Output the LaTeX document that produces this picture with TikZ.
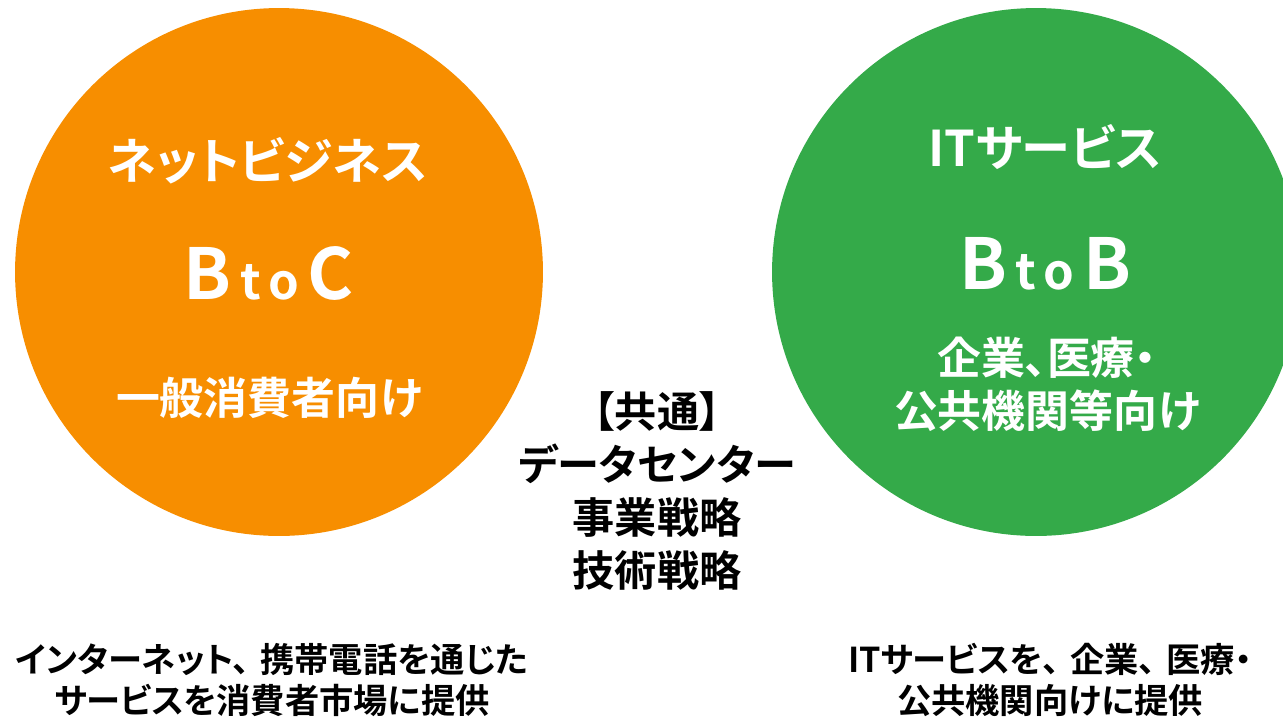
\documentclass[tikz,border=0pt]{standalone}
\usepackage{fontspec}
\setmainfont{Noto Sans CJK JP}[BoldFont={* Bold}]
\newfontfamily\jpbold{Noto Sans CJK JP Bold}[RawFeature=+palt]
\newfontfamily\latinfont{Noto Sans CJK JP Bold}

\definecolor{netorange}{RGB}{247,142,0}
\definecolor{itgreen}{RGB}{52,170,73}

\begin{document}
\begin{tikzpicture}
  [x=0.02cm,y=-0.02cm,every node/.style={inner sep=0pt},
   bubble/.style={circle,minimum size=10.56cm},
   headtext/.style={text=white,font=\jpbold\fontsize{28}{34}\selectfont},
   modeltext/.style={text=white,font=\latinfont\fontsize{40}{44}\selectfont},
   targettext/.style={text=white,align=center,font=\jpbold\fontsize{25}{30}\selectfont},
   commontext/.style={text=black,align=center,font=\jpbold\fontsize{24}{30.2}\selectfont},
   notetext/.style={text=black,align=center,font=\jpbold\fontsize{19.5}{23}\selectfont}]
  \useasboundingbox (0,0) rectangle (1283,721);
  \clip (0,0) rectangle (1283,721);
  \newcommand{\smallto}{\hspace{5pt}{\fontsize{28}{30}\selectfont t\hspace{4pt}o}\hspace{5pt}}
  % circles
  \node[bubble,fill=netorange] (btoc) at (279,272) {};
  \node[bubble,fill=itgreen] (btob) at (1036,272) {};
  % left circle
  \node[headtext] (net) at (268,161) {ネットビジネス};
  \node[modeltext] (btocname) at (269,273) {B\smallto C};
  \node[targettext] (consumer) at (269,398) {一般消費者向け};
  % right circle
  \node[headtext] (its) at (1045,147) {ITサービス};
  \node[modeltext] (btobname) at (1045,264) {B\smallto B};
  \node[targettext] (corp) at (1047,384) {企業、医療・\\公共機関等向け};
  % common part
  \node[commontext] (common) at (657,491) {【共通】\\データセンター\\事業戦略\\技術戦略};
  % notes
  \node[notetext] (netnote) at (272,680) {インターネット、\hspace{0.3em}携帯電話を通じた\\サービスを消費者市場に提供};
  \node[notetext] (itnote) at (1050,680) {ITサービスを、\hspace{0.3em}企業、\hspace{0.3em}医療・\\公共機関向けに提供};
\end{tikzpicture}
\end{document}
